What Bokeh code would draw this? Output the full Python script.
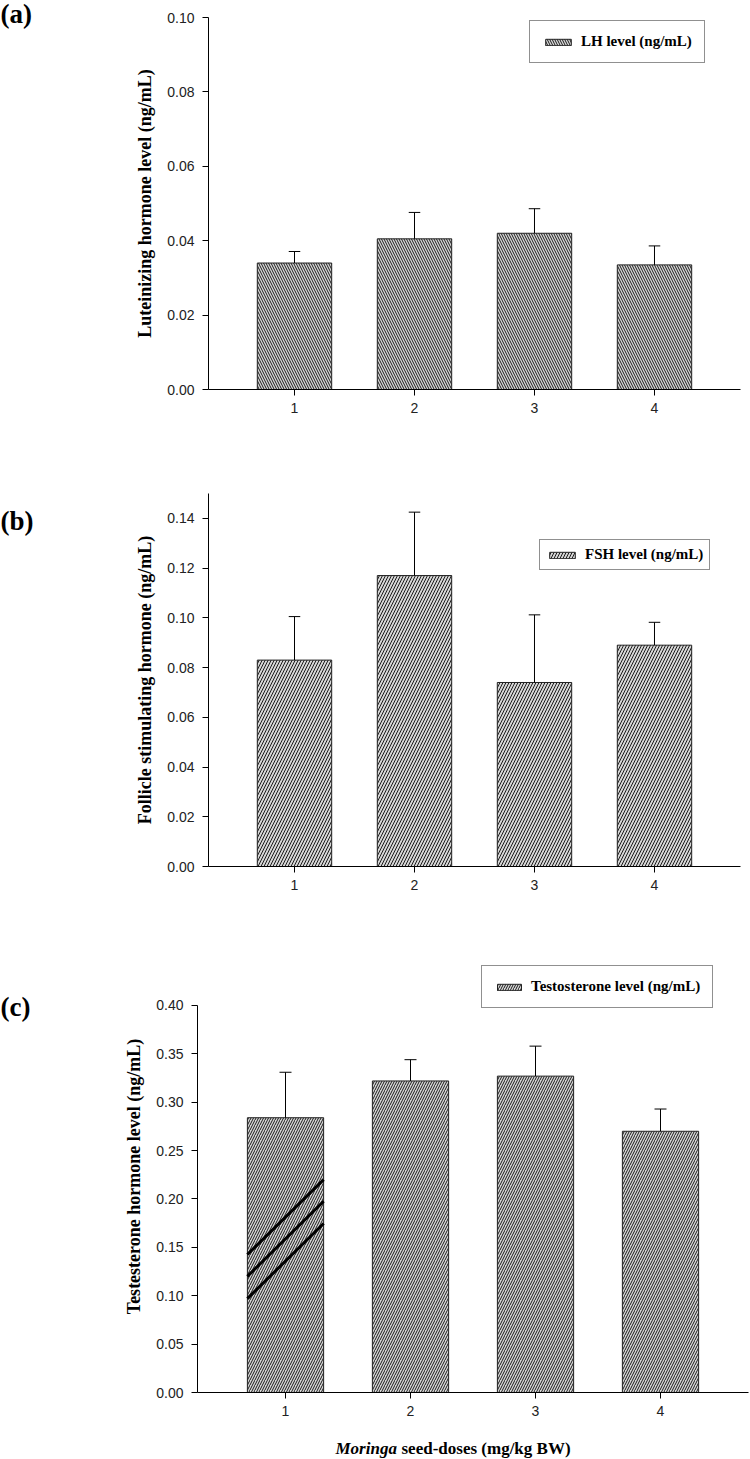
from bokeh.plotting import figure
from bokeh.models import Range1d, FixedTicker, PrintfTickFormatter, Label, Legend, LegendItem
from bokeh.layouts import column, row
from bokeh.embed import file_html
from bokeh.resources import INLINE

# ---------------- data ----------------
doses = [1, 2, 3, 4]
dose_labels = ["1", "2", "3", "4"]

lh_mean = [0.0340, 0.0405, 0.0420, 0.0335]
lh_err = [0.0031, 0.0071, 0.0066, 0.0051]

fsh_mean = [0.083, 0.117, 0.074, 0.089]
fsh_err = [0.0175, 0.0255, 0.0272, 0.0092]

testo_mean = [0.284, 0.322, 0.327, 0.270]
testo_err = [0.047, 0.022, 0.031, 0.023]

# three stray thick strokes drawn over bar 1 of panel (c)
streak_x0 = [0.695, 0.695, 0.695]
streak_y0 = [0.1426, 0.1200, 0.0970]
streak_x1 = [1.305, 1.305, 1.305]
streak_y1 = [0.2200, 0.1977, 0.1747]

SERIF = "Liberation Serif"
SANS = "Liberation Sans"


def make_panel(width, height, mb_left, mb_right, mb_top, mb_bottom,
               xr, yr, ybounds, yticks, ylabel, mean, err, hatch, hatch_scale,
               bar_width, legend_label, legend_loc, legend_pad, glyph_w):
    p = figure(width=width, height=height, output_backend="svg",
               toolbar_location=None, x_range=Range1d(*xr), y_range=Range1d(*yr),
               min_border_left=mb_left, min_border_right=mb_right,
               min_border_top=mb_top, min_border_bottom=mb_bottom,
               frame_align=False)
    p.outline_line_color = None
    p.xgrid.visible = False
    p.ygrid.visible = False
    p.background_fill_color = "white"
    p.border_fill_color = "white"

    for ax in (p.xaxis[0], p.yaxis[0]):
        ax.axis_line_color = "black"
        ax.axis_line_width = 1
        ax.major_tick_line_color = "black"
        ax.major_tick_out = 6
        ax.major_tick_in = 0
        ax.minor_tick_line_color = None
        ax.major_label_text_font = SANS
        ax.major_label_text_font_size = "14px"
        ax.major_label_text_color = "#222222"
    p.xaxis.ticker = FixedTicker(ticks=doses)
    p.xaxis.major_label_overrides = {d: l for d, l in zip(doses, dose_labels)}
    p.xaxis.major_label_standoff = 7
    p.yaxis.ticker = FixedTicker(ticks=yticks)
    p.yaxis.formatter = PrintfTickFormatter(format="%.2f")
    p.yaxis.major_label_standoff = 8
    p.yaxis.bounds = ybounds
    p.yaxis.axis_label = ylabel
    p.yaxis.axis_label_text_font = SERIF
    p.yaxis.axis_label_text_font_style = "bold"
    p.yaxis.axis_label_text_font_size = "18px"
    p.yaxis.axis_label_text_color = "black"
    p.yaxis.axis_label_standoff = 9

    r = p.vbar(x=doses, top=mean, width=bar_width, bottom=0,
               fill_color="#d6d6d6", line_color="#222222", line_width=1,
               hatch_pattern=hatch, hatch_color="#1a1a1a", hatch_weight=1,
               hatch_scale=hatch_scale)

    tops = [m + e for m, e in zip(mean, err)]
    cap = 0.048
    p.segment(x0=doses, y0=mean, x1=doses, y1=tops, line_color="black", line_width=1)
    p.segment(x0=[d - cap for d in doses], y0=tops, x1=[d + cap for d in doses],
              y1=tops, line_color="black", line_width=1)

    legend = Legend(items=[LegendItem(label=legend_label, renderers=[r])],
                    location=legend_loc, orientation="vertical",
                    padding=legend_pad, margin=0, spacing=0,
                    glyph_width=glyph_w, glyph_height=8, label_standoff=7,
                    label_height=8, label_text_font=SERIF,
                    label_text_font_style="bold", label_text_font_size="15px",
                    label_text_color="black", border_line_color="#222222",
                    border_line_width=1, background_fill_color="white",
                    background_fill_alpha=1.0)
    p.add_layout(legend)
    return p


def blank(width, height):
    f = figure(width=width, height=height, output_backend="svg",
               toolbar_location=None, x_range=Range1d(0, width),
               y_range=Range1d(height, 0), x_axis_type=None, y_axis_type=None,
               min_border=0, min_border_left=0, min_border_right=0,
               min_border_top=0, min_border_bottom=0, frame_align=False)
    f.outline_line_color = None
    f.xgrid.visible = False
    f.ygrid.visible = False
    f.background_fill_color = "white"
    f.border_fill_color = "white"
    return f


pa = make_panel(710, 445, 168, 10, 17, 56,
                (0.2833, 4.7167), (0.0, 0.10), (0.0, 0.10),
                [0.00, 0.02, 0.04, 0.06, 0.08, 0.10],
                "Luteinizing hormone level (ng/mL)", lh_mean, lh_err,
                "left_diagonal_line", 5, 0.62,
                "LH level (ng/mL)", (321, 326), 12, 32)

pb = make_panel(710, 505, 168, 10, 48, 84,
                (0.2833, 4.7167), (0.0, 0.15), (0.0, 0.15),
                [0.00, 0.02, 0.04, 0.06, 0.08, 0.10, 0.12, 0.14],
                "Follicle stimulating hormone (ng/mL)", fsh_mean, fsh_err,
                "right_diagonal_line", 6, 0.62,
                "FSH level (ng/mL)", (331, 296), 6, 32)

pc = make_panel(710, 475, 157, 2, 10, 33,
                (0.296, 4.704), (0.0, 0.44651), (0.0, 0.40),
                [0.00, 0.05, 0.10, 0.15, 0.20, 0.25, 0.30, 0.35, 0.40],
                "Testesterone hormone level (ng/mL)", testo_mean, testo_err,
                "right_diagonal_line", 5, 0.61,
                "Testosterone level (ng/mL)", (284, 384), 12, 30)

pc.segment(x0=streak_x0, y0=streak_y0, x1=streak_x1, y1=streak_y1,
           line_color="black", line_width=3)

# x-axis title of panel (c)
xt = blank(710, 34)
xt.add_layout(Label(x=295, y=23, text="Moringa", text_font=SERIF,
                    text_font_style="bold italic", text_font_size="17px",
                    text_color="black", text_align="left", text_baseline="middle"))
xt.add_layout(Label(x=361, y=23, text="seed-doses (mg/kg BW)", text_font=SERIF,
                    text_font_style="bold", text_font_size="17px",
                    text_color="black", text_align="left", text_baseline="middle"))

# panel letters
strip = blank(40, 1459)
for txt, yy in (("(a)", 13), ("(b)", 520), ("(c)", 1006)):
    strip.add_layout(Label(x=0, y=yy, text=txt, text_font=SERIF,
                           text_font_style="bold", text_font_size="27px",
                           text_color="black", text_align="left",
                           text_baseline="middle"))

layout = row(strip, column(pa, pb, pc, xt, spacing=0), spacing=0)

open("out.html", "w").write(file_html(layout, INLINE))
